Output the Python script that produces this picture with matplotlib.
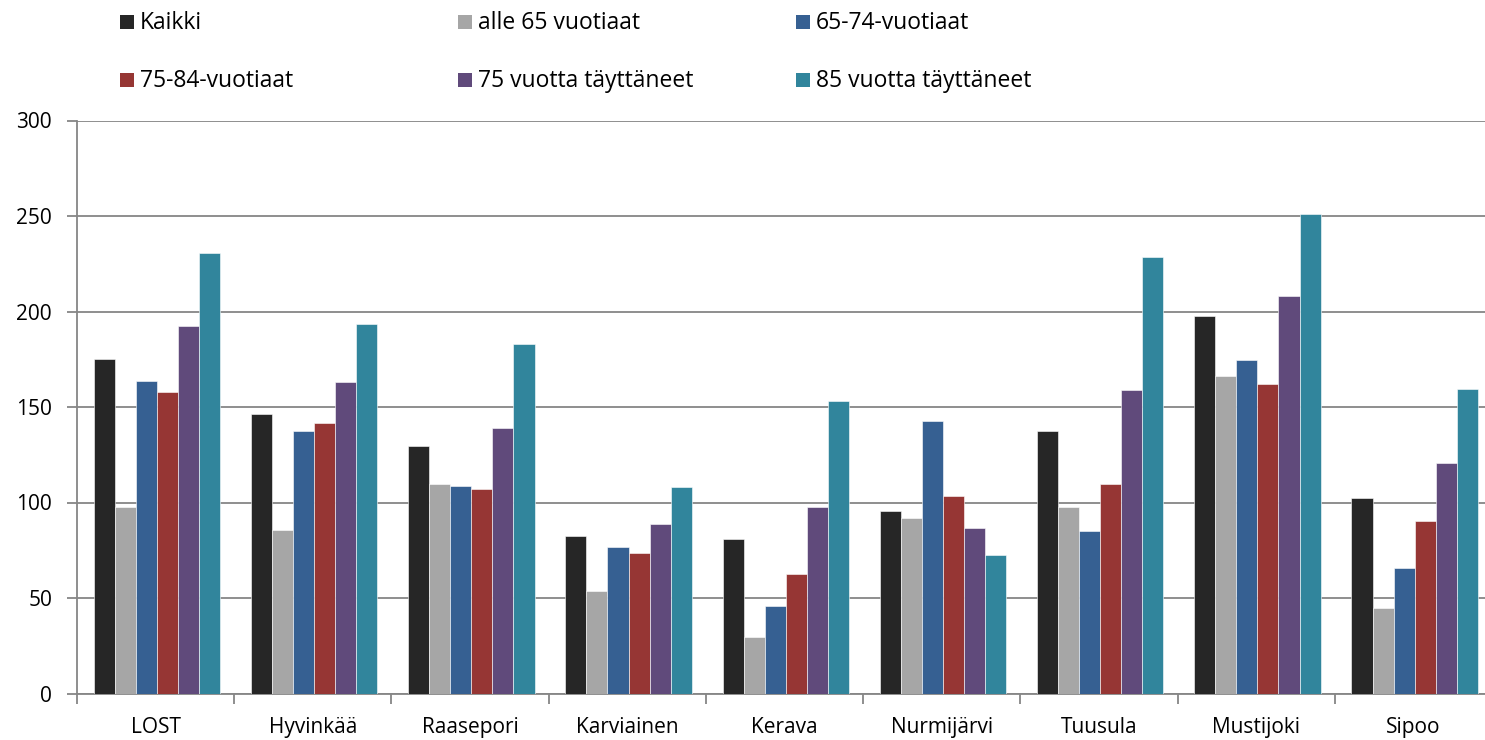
import matplotlib
matplotlib.use("Agg")
import matplotlib.pyplot as plt
from matplotlib.patches import Rectangle
import numpy as np

plt.rcParams['font.family'] = ['Open Sans', 'DejaVu Sans']

categories = ["LOST", "Hyvinkää", "Raasepori", "Karviainen", "Kerava",
              "Nurmijärvi", "Tuusula", "Mustijoki", "Sipoo"]
series_names = ["Kaikki", "alle 65 vuotiaat", "65-74-vuotiaat",
                "75-84-vuotiaat", "75 vuotta täyttäneet", "85 vuotta täyttäneet"]
kaikki = [175.1, 146.3, 129.6, 82.6, 81.0, 95.4, 137.3, 197.8, 102.4]
alle65 = [97.6, 85.6, 109.5, 53.7, 29.7, 91.7, 97.5, 166.2, 44.8]
v65_74 = [163.6, 137.3, 108.6, 76.5, 45.6, 142.7, 85.1, 174.4, 65.5]
v75_84 = [157.9, 141.6, 106.9, 73.4, 62.4, 103.4, 109.5, 162.0, 90.2]
v75plus = [192.6, 163.1, 139.0, 88.7, 97.7, 86.6, 158.9, 208.1, 120.7]
v85plus = [230.6, 193.5, 182.8, 108.3, 153.1, 72.5, 228.4, 251.2, 159.3]
yticks = [0, 50, 100, 150, 200, 250, 300]

series = [kaikki, alle65, v65_74, v75_84, v75plus, v85plus]
colors = ["#262626", "#A6A6A6", "#366092", "#963634", "#604A7B", "#31859C"]

FS = 15
LFS = 16.5
W, H = 1485, 740
fig = plt.figure(figsize=(W / 100, H / 100), dpi=100)
left_px, right_px, top_px, bot_px = 77, 1492, 120.5, 693.5
ax = fig.add_axes([left_px / W, 1 - bot_px / H, (right_px - left_px) / W, (bot_px - top_px) / H])

n = len(series)
x = np.arange(len(categories))
bw = 0.134
for i, (vals, c) in enumerate(zip(series, colors)):
    offs = (i - (n - 1) / 2) * bw
    ax.bar(x + offs + 0.008, vals, width=bw, color=c, edgecolor='white', linewidth=0.4, zorder=3)

ax.set_xlim(-0.5, len(categories) - 0.5)
ax.set_ylim(0, 300)
ax.set_yticks(yticks)
ax.set_yticklabels([str(t) for t in yticks], fontsize=FS)
ax.yaxis.grid(True, color="#868686", linewidth=1.3, zorder=0)
ax.set_axisbelow(True)
ax.tick_params(axis='y', length=7, width=1.3, color="#868686", pad=11)

ax.set_xticks(x)
ax.set_xticklabels(categories, fontsize=FS)
ax.set_xticks(np.arange(len(categories) + 1) - 0.5, minor=True)
ax.tick_params(axis='x', which='major', length=0, pad=17)
ax.tick_params(axis='x', which='minor', length=7, width=1.3, color="#868686")

for s in ['top', 'right']:
    ax.spines[s].set_visible(False)
for s in ['left', 'bottom']:
    ax.spines[s].set_color("#868686")
    ax.spines[s].set_linewidth(1.3)

# legend, 2 rows x 3 columns
col_x = [120, 458, 796]
row_y = [22, 80]
sq = 14
for i, (name, c) in enumerate(zip(series_names, colors)):
    r, col = divmod(i, 3)
    px, py = col_x[col], row_y[r]
    fig.patches.append(Rectangle((px / W, 1 - (py + sq / 2) / H), sq / W, sq / H,
                                 transform=fig.transFigure, facecolor=c, edgecolor='none'))
    fig.text((px + sq + 6) / W, 1 - (py + 1) / H, name, fontsize=LFS, va='center', ha='left')

fig.savefig("out.png", dpi=100)
